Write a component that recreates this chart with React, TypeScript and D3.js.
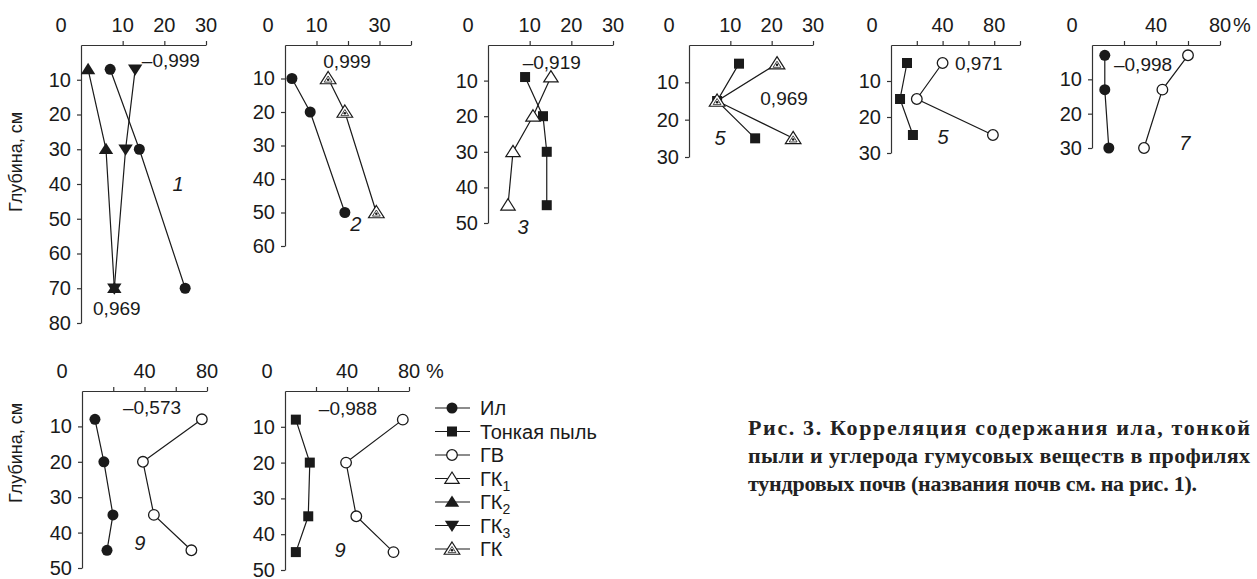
import React, { useEffect, useRef } from 'react';
import * as d3 from 'd3';

// legend
const legendNames = ['Ил', 'Тонкая пыль', 'ГВ', 'ГК', 'ГК', 'ГК', 'ГК'];
const legendSubs = ['', '', '', '1', '2', '3', ''];
const legendMarkers = ['dot', 'square', 'ring', 'triOpen', 'triUp', 'triDown', 'triDot'];

// panel 1 (soil 1)
const p1Depth = [7, 30, 70];
const p1Il = [7, 14, 25];
const p1GK2 = [1.7, 6, 8];
const p1GK3 = [13, 10.7, 8];

// panel 2 (soil 2)
const p2Depth = [10, 20, 50];
const p2Il = [2.2, 8, 19];
const p2GK = [13.7, 19, 29];

// panel 3 (soil 3)
const p3Depth = [9, 20, 30, 45];
const p3Dust = [8.9, 13.2, 14.1, 14.1];
const p3GK1 = [15.1, 10.8, 6, 4.8];

// panel 4 (soil 5)
const p4Depth = [5, 15, 25];
const p4Dust = [12.1, 6.8, 16];
const p4GK = [21.3, 6.8, 25.2];

// panel 5 (soil 5)
const p5Depth = [5, 15, 25];
const p5Dust = [12.4, 7, 17];
const p5GV = [40, 20, 79];

// panel 6 (soil 7)
const p6Depth = [3, 13, 30];
const p6Il = [8, 8, 10.5];
const p6GV = [60, 44, 32.5];

// panel 7 (soil 9)
const p7Depth = [8, 20, 35, 45];
const p7Il = [8.3, 14, 19.8, 16];
const p7GV = [76.7, 39, 46, 70];

// panel 8 (soil 9)
const p8Depth = [8, 20, 35, 45];
const p8Dust = [7, 16, 15, 7];
const p8GV = [76, 39.4, 46, 70];

const corrLabels = ['–0,999', '0,969', '0,999', '–0,919', '0,969', '0,971', '–0,998', '–0,573', '–0,988'];
const soilLabels = ['1', '2', '3', '5', '5', '7', '9', '9'];

const captionLines = [
  'Рис. 3. Корреляция содержания ила, тонкой',
  'пыли и углерода гумусовых веществ в профилях',
  'тундровых почв (названия почв см. на рис. 1).',
];

const INK = '#1a1a1a';
const FONT = '"Liberation Sans", Arial, Helvetica, sans-serif';

type Note = { text: string; x: number; y: number; anchor: string; italic?: boolean };
type Panel = {
  x0: number; x1: number; y0: number; y1: number;
  xMax: number; yMax: number;
  xTicks: number[]; xLabels: number[]; pct?: number; zeroOff: number;
  series: { depth: number[]; values: number[]; marker: string }[];
  notes: Note[];
};

const panels: Panel[] = [
  {
    x0: 81, x1: 206, y0: 45, y1: 323, xMax: 30, yMax: 80,
    xTicks: [10, 20, 30], xLabels: [10, 20, 30], zeroOff: 20,
    series: [
      { depth: p1Depth, values: p1Il, marker: 'dot' },
      { depth: p1Depth, values: p1GK2, marker: 'triUp' },
      { depth: p1Depth, values: p1GK3, marker: 'triDown' },
    ],
    notes: [
      { text: corrLabels[0], x: 14.6, y: 4.3, anchor: 'start' },
      { text: corrLabels[1], x: 8.6, y: 75.7, anchor: 'middle' },
      { text: soilLabels[0], x: 23.3, y: 40, anchor: 'middle', italic: true },
    ],
  },
  {
    x0: 285, x1: 411, y0: 45, y1: 246, xMax: 40, yMax: 60,
    xTicks: [10, 20, 30, 40], xLabels: [10, 30], zeroOff: 17,
    series: [
      { depth: p2Depth, values: p2Il, marker: 'dot' },
      { depth: p2Depth, values: p2GK, marker: 'triDot' },
    ],
    notes: [
      { text: corrLabels[2], x: 19.7, y: 5, anchor: 'middle' },
      { text: soilLabels[1], x: 22.5, y: 53.4, anchor: 'middle', italic: true },
    ],
  },
  {
    x0: 488, x1: 613, y0: 45, y1: 223, xMax: 30, yMax: 50,
    xTicks: [10, 20, 30], xLabels: [10, 20, 30], zeroOff: 20,
    series: [
      { depth: p3Depth, values: p3Dust, marker: 'square' },
      { depth: p3Depth, values: p3GK1, marker: 'triOpen' },
    ],
    notes: [
      { text: corrLabels[3], x: 15.3, y: 4.8, anchor: 'middle' },
      { text: soilLabels[2], x: 8.4, y: 51, anchor: 'middle', italic: true },
    ],
  },
  {
    x0: 689, x1: 813, y0: 45, y1: 157, xMax: 30, yMax: 30,
    xTicks: [10, 20, 30], xLabels: [10, 20, 30], zeroOff: 20,
    series: [
      { depth: p4Depth, values: p4Dust, marker: 'square' },
      { depth: p4Depth, values: p4GK, marker: 'triDot' },
    ],
    notes: [
      { text: corrLabels[4], x: 23, y: 14.2, anchor: 'middle' },
      { text: soilLabels[3], x: 7.5, y: 25, anchor: 'middle', italic: true },
    ],
  },
  {
    x0: 891, x1: 1020, y0: 45, y1: 153, xMax: 100, yMax: 30,
    xTicks: [20, 40, 60, 80, 100], xLabels: [40, 80], zeroOff: 19,
    series: [
      { depth: p5Depth, values: p5Dust, marker: 'square' },
      { depth: p5Depth, values: p5GV, marker: 'ring' },
    ],
    notes: [
      { text: corrLabels[5], x: 49.6, y: 5, anchor: 'start' },
      { text: soilLabels[4], x: 40.3, y: 25.5, anchor: 'middle', italic: true },
    ],
  },
  {
    x0: 1092, x1: 1220, y0: 45, y1: 148, xMax: 80, yMax: 30,
    xTicks: [20, 40, 60, 80], xLabels: [40, 80], pct: 13, zeroOff: 20,
    series: [
      { depth: p6Depth, values: p6Il, marker: 'dot' },
      { depth: p6Depth, values: p6GV, marker: 'ring' },
    ],
    notes: [
      { text: corrLabels[6], x: 31.9, y: 5.5, anchor: 'middle' },
      { text: soilLabels[5], x: 58, y: 28.5, anchor: 'middle', italic: true },
    ],
  },
  {
    x0: 82, x1: 207, y0: 391, y1: 568, xMax: 80, yMax: 50,
    xTicks: [20, 40, 60, 80], xLabels: [40, 80], zeroOff: 20,
    series: [
      { depth: p7Depth, values: p7Il, marker: 'dot' },
      { depth: p7Depth, values: p7GV, marker: 'ring' },
    ],
    notes: [
      { text: corrLabels[7], x: 44.8, y: 4.5, anchor: 'middle' },
      { text: soilLabels[6], x: 37, y: 43, anchor: 'middle', italic: true },
    ],
  },
  {
    x0: 285, x1: 409, y0: 391, y1: 570, xMax: 80, yMax: 50,
    xTicks: [20, 40, 60, 80], xLabels: [40, 80], pct: 17, zeroOff: 18,
    series: [
      { depth: p8Depth, values: p8Dust, marker: 'square' },
      { depth: p8Depth, values: p8GV, marker: 'ring' },
    ],
    notes: [
      { text: corrLabels[8], x: 40.6, y: 4.9, anchor: 'middle' },
      { text: soilLabels[7], x: 35.5, y: 44.5, anchor: 'middle', italic: true },
    ],
  },
];

function drawMarker(g: any, type: string, x: number, y: number) {
  const tri = (s: number, down = false) => {
    const h = s * 0.9;
    return down
      ? `M${x},${y + h * 0.6}L${x + s * 0.6},${y - h * 0.45}L${x - s * 0.6},${y - h * 0.45}Z`
      : `M${x},${y - h * 0.6}L${x + s * 0.6},${y + h * 0.45}L${x - s * 0.6},${y + h * 0.45}Z`;
  };
  if (type === 'dot') {
    g.append('circle').attr('cx', x).attr('cy', y).attr('r', 5.5).attr('fill', INK);
  } else if (type === 'ring') {
    g.append('circle').attr('cx', x).attr('cy', y).attr('r', 5.3)
      .attr('fill', '#fff').attr('stroke', INK).attr('stroke-width', 1.3);
  } else if (type === 'square') {
    g.append('rect').attr('x', x - 5).attr('y', y - 5).attr('width', 10).attr('height', 10).attr('fill', INK);
  } else if (type === 'triUp') {
    g.append('path').attr('d', tri(12)).attr('fill', INK);
  } else if (type === 'triDown') {
    g.append('path').attr('d', tri(12, true)).attr('fill', INK);
  } else if (type === 'triOpen') {
    g.append('path').attr('d', tri(12)).attr('fill', '#fff').attr('stroke', INK).attr('stroke-width', 1.2);
  } else if (type === 'triDot') {
    g.append('path').attr('d', tri(13)).attr('fill', '#fff').attr('stroke', INK).attr('stroke-width', 1.2);
    g.append('path').attr('d', tri(6.5)).attr('fill', 'none').attr('stroke', INK).attr('stroke-width', 0.8)
      .attr('transform', 'translate(0,1)');
    g.append('circle').attr('cx', x).attr('cy', y + 1.2).attr('r', 1.3).attr('fill', INK);
  }
}

export default function App() {
  const ref = useRef<SVGSVGElement>(null);

  useEffect(() => {
    if (!ref.current) return;
    const svg = d3.select(ref.current);
    svg.selectAll('*').remove();

    panels.forEach((p, pi) => {
      const x = d3.scaleLinear().domain([0, p.xMax]).range([p.x0, p.x1]);
      const y = d3.scaleLinear().domain([0, p.yMax]).range([p.y0, p.y1]);
      const g = svg.append('g').attr('font-family', FONT).attr('fill', INK);

      // top axis
      const top = g.append('g').attr('transform', `translate(0,${p.y0})`)
        .call(d3.axisTop(x).tickValues(p.xTicks).tickSize(4).tickSizeOuter(0).tickFormat(() => ''));
      top.select('.domain').attr('stroke', '#333').attr('stroke-width', 1.2);
      top.selectAll('.tick line').attr('stroke', '#333').attr('stroke-width', 1.2);
      const labelY = p.y0 - 20;
      g.append('text').attr('x', p.x0 - p.zeroOff).attr('y', labelY).attr('dy', '0.35em')
        .attr('text-anchor', 'middle').attr('font-size', 20).text('0');
      p.xLabels.forEach((v) => {
        g.append('text').attr('x', x(v)).attr('y', labelY).attr('dy', '0.35em')
          .attr('text-anchor', 'middle').attr('font-size', 20).text(String(v));
      });
      if (p.pct) {
        g.append('text').attr('x', x(p.xMax) + p.pct).attr('y', labelY).attr('dy', '0.35em')
          .attr('font-size', 20).text('%');
      }

      // left axis
      const left = g.append('g').attr('transform', `translate(${p.x0},0)`)
        .call(d3.axisLeft(y).tickValues(d3.range(10, p.yMax + 1, 10)).tickSize(4).tickSizeOuter(0).tickPadding(6));
      left.select('.domain').attr('stroke', '#333').attr('stroke-width', 1.2);
      left.selectAll('.tick line').attr('stroke', '#333').attr('stroke-width', 1.2);
      left.selectAll('.tick text').attr('font-size', 20).attr('font-family', FONT).attr('fill', INK);

      // lines, then markers
      p.series.forEach((s) => {
        const pts = s.values.map((v, i) => [x(v), y(s.depth[i])] as [number, number]);
        g.append('path').attr('d', d3.line()(pts)).attr('fill', 'none')
          .attr('stroke', INK).attr('stroke-width', 1.2);
      });
      p.series.forEach((s) => {
        s.values.forEach((v, i) => drawMarker(g, s.marker, x(v), y(s.depth[i])));
      });

      p.notes.forEach((n) => {
        g.append('text').attr('x', x(n.x)).attr('y', y(n.y)).attr('dy', '0.35em')
          .attr('text-anchor', n.anchor).attr('font-size', n.italic ? 20 : 19)
          .attr('font-style', n.italic ? 'italic' : 'normal').text(n.text);
      });

      if (pi === 0 || pi === 6) {
        const cy = pi === 0 ? 162 : 453;
        g.append('text').attr('transform', `translate(22,${cy}) rotate(-90)`)
          .attr('text-anchor', 'middle').attr('font-size', 18).text('Глубина, см');
      }
    });

    // legend
    const leg = svg.append('g').attr('font-family', FONT).attr('fill', INK);
    legendNames.forEach((name, i) => {
      const ly = 408 + i * 23.5;
      leg.append('line').attr('x1', 435).attr('x2', 470).attr('y1', ly).attr('y2', ly)
        .attr('stroke', INK).attr('stroke-width', 1.2);
      drawMarker(leg, legendMarkers[i], 452, ly);
      const t = leg.append('text').attr('x', 480).attr('y', ly).attr('dy', '0.35em').attr('font-size', 20).text(name);
      if (legendSubs[i]) {
        t.append('tspan').attr('font-size', 14).attr('dy', 5).text(legendSubs[i]);
      }
    });

    // caption
    const cap = svg.append('g').attr('font-family', '"Liberation Serif", "Times New Roman", serif')
      .attr('font-weight', 'bold').attr('font-size', 22).attr('fill', '#222');
    const widths = [502, 502, 449];
    captionLines.forEach((line, i) => {
      cap.append('text').attr('x', 748).attr('y', 435 + i * 28)
        .attr('textLength', widths[i]).attr('lengthAdjust', 'spacing').text(line);
    });
  }, []);

  return (
    <svg ref={ref} width={1257} height={579}
      style={{ position: 'absolute', left: 0, top: 0, background: '#fff' }} />
  );
}
